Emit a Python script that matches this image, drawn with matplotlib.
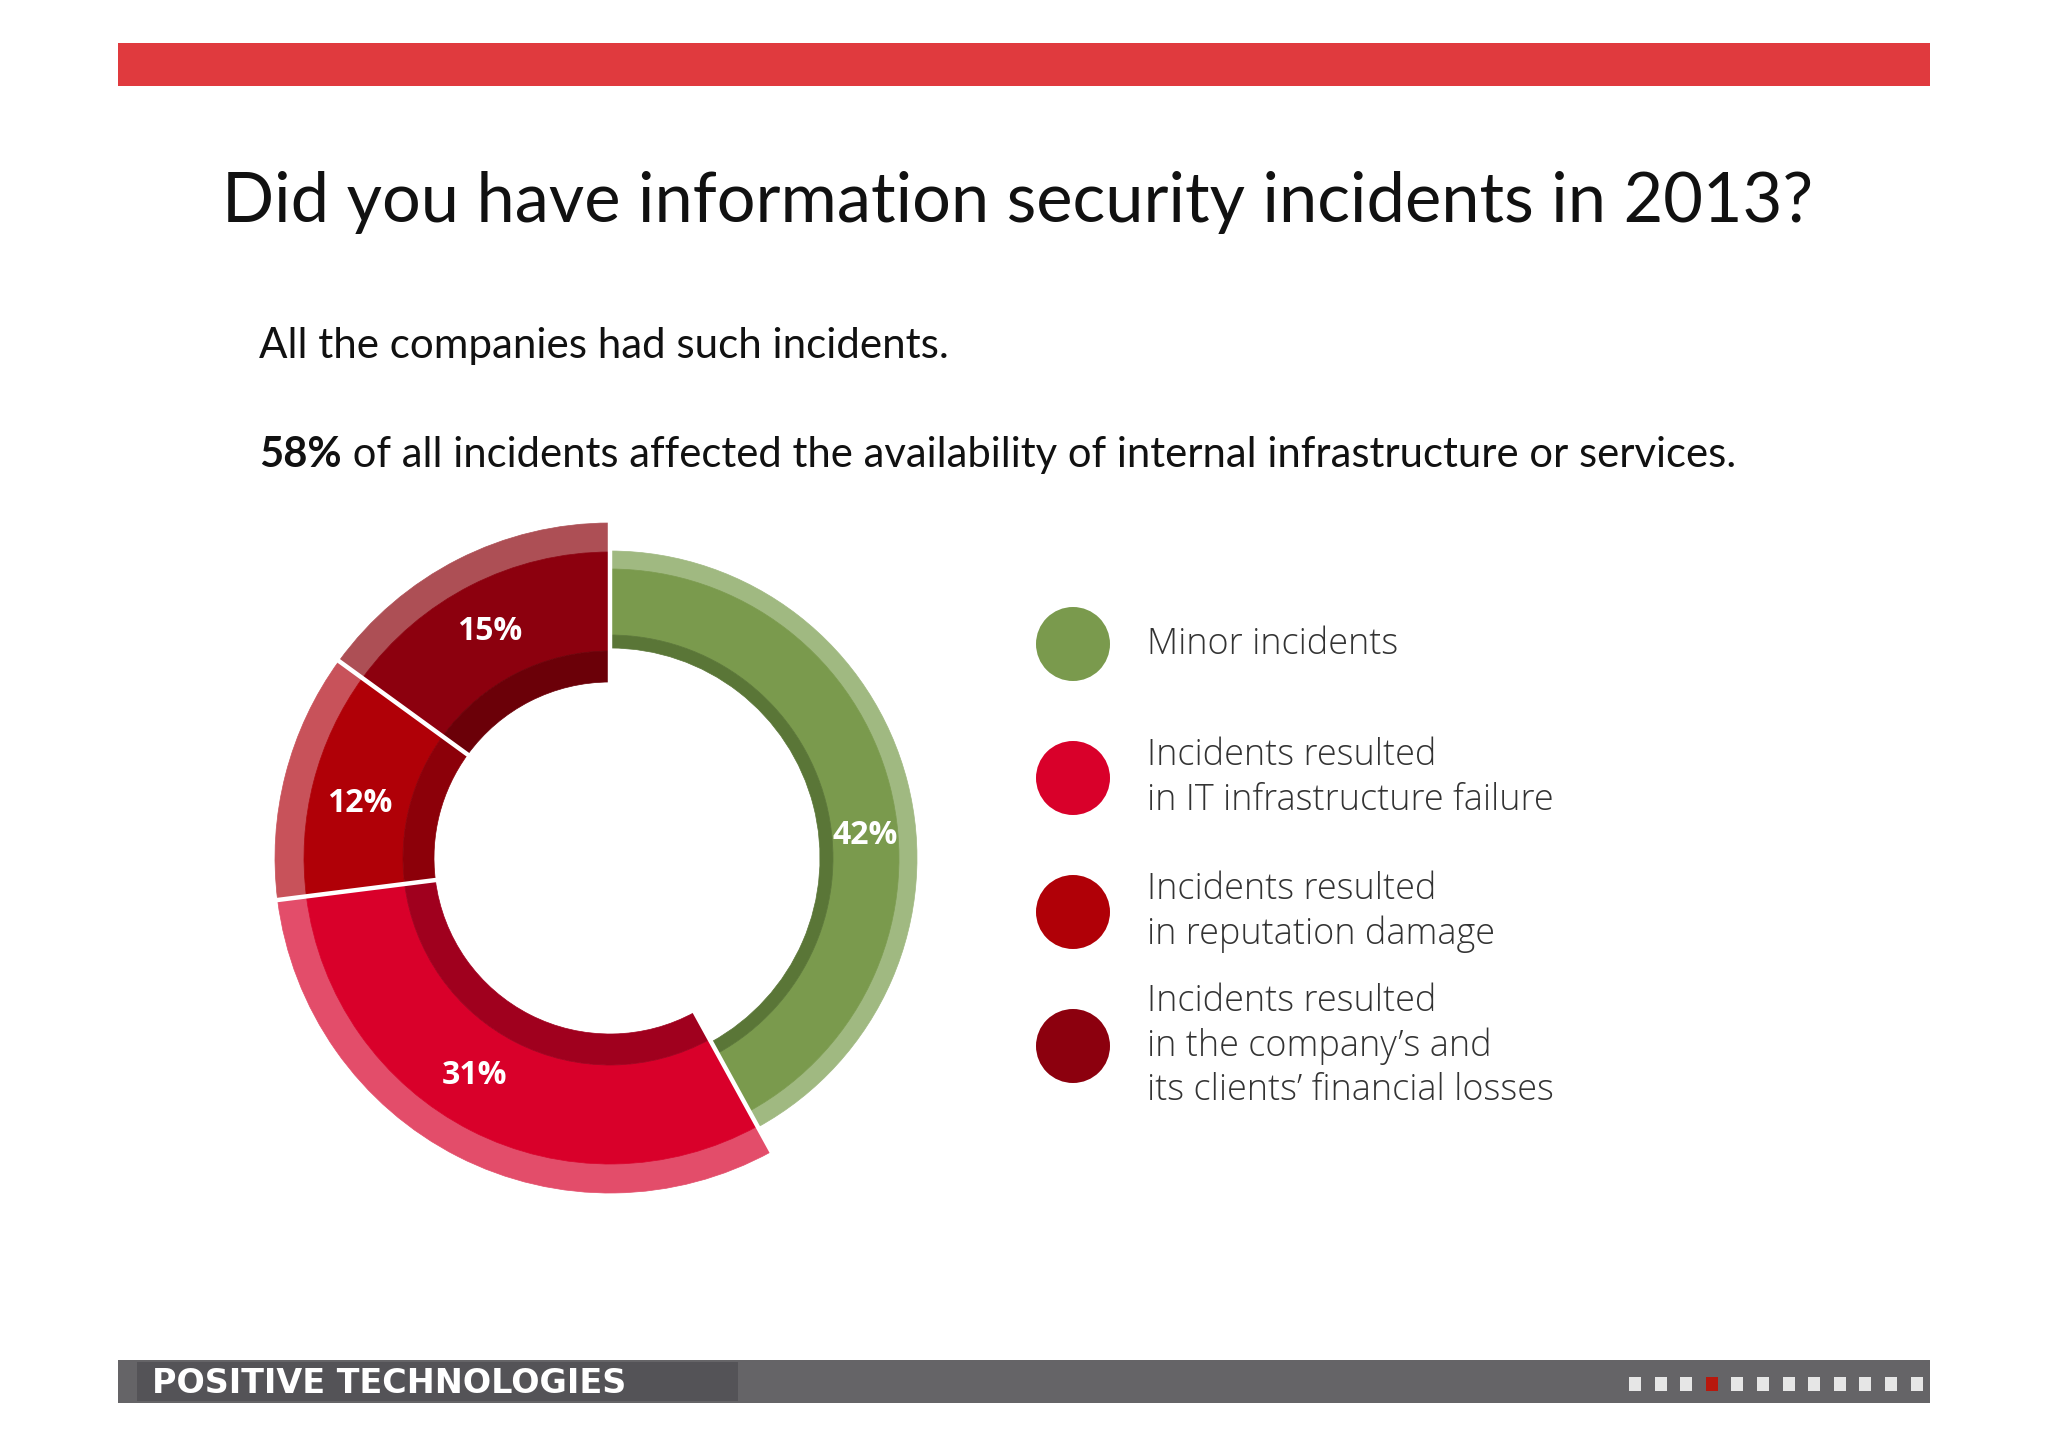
import numpy as np
import matplotlib
matplotlib.use('Agg')
import matplotlib.pyplot as plt
from matplotlib.patches import Wedge, Circle, Rectangle

W, H = 2048, 1447

# data
shares = [42, 31, 12, 15]
categories = [
    'Minor incidents',
    'Incidents resulted\nin IT infrastructure failure',
    'Incidents resulted\nin reputation damage',
    'Incidents resulted\nin the company\u2019s and\nits clients\u2019 financial losses',
]
title = 'Did you have information security incidents in 2013?'
line1 = 'All the companies had such incidents.'
line2_bold = '58%'
line2_rest = 'of all incidents affected the availability of internal infrastructure or services.'
footer = 'POSITIVE TECHNOLOGIES'

# styles: (outer rim, main band, inner band)
slice_colors = [
    ('#a0b981', '#7a9a4d', '#5a7637'),
    ('#e34d6a', '#d9002a', '#a0001e'),
    ('#c8525a', '#b00007', '#8c0009'),
    ('#ad4f55', '#8c000e', '#6b0008'),
]
# inner, inner band edge, main edge, outer (px)
slice_radii = [
    (210, 223, 289, 307),
    (176, 207, 306, 335),
    (176, 207, 306, 335),
    (176, 207, 306, 335),
]
label_nudge = [-9.4, -5, 2, 1]

fig = plt.figure(figsize=(W / 100, H / 100), dpi=100)
fig.patch.set_facecolor('white')
ax = fig.add_axes([0, 0, 1, 1])
ax.set_xlim(0, W)
ax.set_ylim(0, H)
ax.axis('off')
renderer = fig.canvas.get_renderer()


def Y(y):
    return H - y


def fit(t, width):
    bb = t.get_window_extent(renderer)
    t.set_fontsize(t.get_fontsize() * width / bb.width)
    return t


# bars
ax.add_patch(Rectangle((118, Y(86)), 1812, 43, color='#e03a3e', lw=0))
ax.add_patch(Rectangle((118, Y(1403)), 1812, 43, color='#656467', lw=0))
ax.add_patch(Rectangle((137, Y(1401)), 601, 39, color='#545357', lw=0))
ax.text(152, Y(1393), footer, color='white', fontsize=24, fontweight='bold',
        family='DejaVu Sans', va='baseline', ha='left')
for i in range(12):
    c = '#b8180d' if i == 3 else '#e6e6e6'
    ax.add_patch(Rectangle((1629 + i * 25.6, Y(1391)), 12, 14, color=c, lw=0))

# texts
fit(ax.text(222, Y(222), title, fontsize=50, family='Lato', color='#111111',
            va='baseline'), 1590)
fit(ax.text(259, Y(358), line1, fontsize=30, family='Lato', color='#111111',
            va='baseline'), 689)

b = ax.text(259, Y(467), line2_bold, fontsize=30, family='Lato', fontweight='bold',
            color='#111111', va='baseline')
r = ax.text(0, Y(467), ' ' + line2_rest, fontsize=30, family='Lato',
            color='#111111', va='baseline')
wb = b.get_window_extent(renderer).width
wr = r.get_window_extent(renderer).width
k = 1474 / (wb + wr)
b.set_fontsize(30 * k)
r.set_fontsize(30 * k)
r.set_x(259 + b.get_window_extent(renderer).width)

# donut
cx, cy = 610, Y(858)
start = 90.0
bounds = []
for i, s in enumerate(shares):
    t2 = start
    t1 = start - 3.6 * s
    r0, r1, r2, r3 = slice_radii[i]
    rim, main, dark = slice_colors[i]
    for ro, ri, c in [(r3, r2, rim), (r2, r1, main), (r1, r0, dark)]:
        ax.add_patch(Wedge((cx, cy), ro, t1, t2, width=ro - ri, fc=c, ec=c, lw=0.5))
    mid = np.radians((t1 + t2) / 2 + label_nudge[i])
    ax.text(cx + 256 * np.cos(mid), cy + 256 * np.sin(mid), f'{s}%', color='white',
            fontsize=23, fontweight='bold', family='Open Sans', ha='center', va='center')
    bounds.append(t2)
    start = t1

for a in bounds:
    t = np.radians(a)
    ax.plot([cx + 168 * np.cos(t), cx + 345 * np.cos(t)],
            [cy + 168 * np.sin(t), cy + 345 * np.sin(t)],
            color='white', lw=3.2, solid_capstyle='butt')

# legend
leg = []
for i, lab in enumerate(categories):
    y = Y(644 + 134 * i)
    ax.add_patch(Circle((1073, y), 37, color=slice_colors[i][1], lw=0))
    leg.append(ax.text(1147, y, lab, fontsize=24, family='Open Sans', fontweight='light',
                       color='#333333', va='center', ha='left', linespacing=1.3))

probe = ax.text(0, 0, 'in IT infrastructure failure', fontsize=24, family='Open Sans',
                fontweight='light')
fs = 24 * 407 / probe.get_window_extent(renderer).width
probe.remove()
for t in leg:
    t.set_fontsize(fs)
    t.set_linespacing(45 / (fs * 100 / 72))

fig.savefig('out.png', dpi=100, facecolor='white')
